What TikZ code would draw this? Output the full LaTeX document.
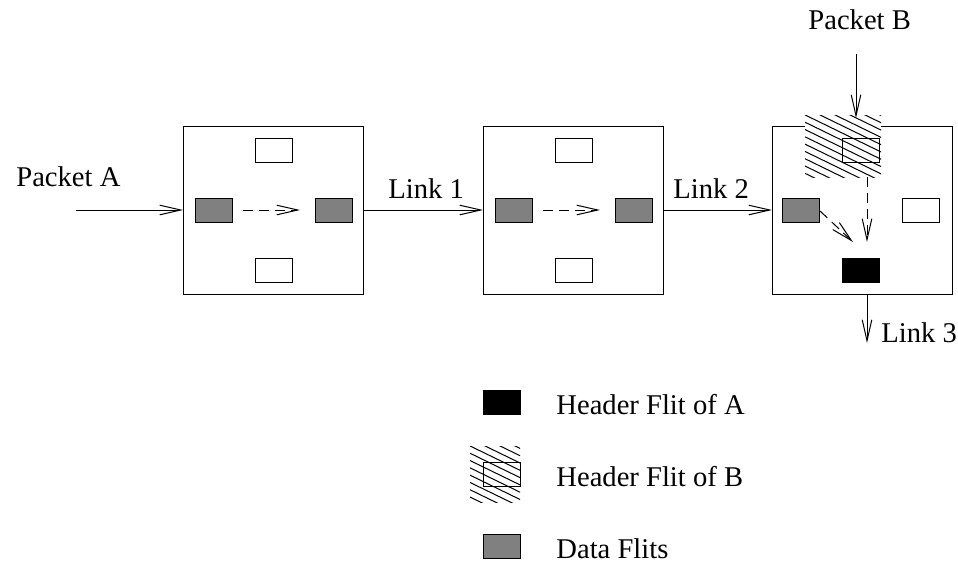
\documentclass[tikz,border=0pt]{standalone}
\usepackage{fontspec}
\setmainfont{Liberation Serif}
\usetikzlibrary{arrows.meta,calc}

\tikzset{
  lw/.style={line width=0.5pt},
  router/.style={draw,lw,minimum width=90pt,minimum height=84pt,inner sep=0pt,outer sep=0pt},
  flit/.style={draw,lw,minimum width=18.5pt,minimum height=12pt,inner sep=0pt,outer sep=0pt},
  dataflit/.style={flit,fill=black!50},
  freeflit/.style={flit,fill=white},
  headA/.style={flit,fill=black},
  headB/.style={flit},
  link/.style={lw,-{Straight Barb[length=10.5pt,width=4.8pt,line width=0.5pt]}},
  dasharrow/.style={link,dash pattern=on 5pt off 3pt},
  lbl/.style={font=\fontsize{14.3}{16}\selectfont,inner sep=0pt,anchor=base west},
  hatchline/.style={line width=0.5pt}
}

% hatched backdrop behind a header flit of packet B
\newcommand{\hatcharea}[4]{% x0,y0,x1,y1
  \fill[white] (#1,#2) rectangle (#3,#4);
  \begin{scope}
    \clip (#1,#2) rectangle (#3,#4);
    \foreach \k in {0,...,18}
      \draw[hatchline] ($(#1,#2)+(-90,-95+7.3*\k)$) -- ++(230,112);
  \end{scope}
}

\begin{document}
\begin{tikzpicture}[x=0.5pt,y=-0.5pt]
\useasboundingbox (0,0) rectangle (958,563);

% routers
\node[router] (r1) at (273,210) {};
\node[router] (r2) at (573,210) {};
\node[router] (r3) at (862,210) {};

% router 1
\node[freeflit] (r1n) at (273.5,150) {};
\node[freeflit] (r1s) at (273.5,270) {};
\node[dataflit] (r1w) at (213.5,210) {};
\node[dataflit] (r1e) at (333.5,210) {};
\draw[dasharrow] ([xshift=5.5pt]r1w.east) -- ([xshift=-7.5pt]r1e.west);

% router 2
\node[freeflit] (r2n) at (573.5,150) {};
\node[freeflit] (r2s) at (573.5,270) {};
\node[dataflit] (r2w) at (513.5,210) {};
\node[dataflit] (r2e) at (633.5,210) {};
\draw[dasharrow] ([xshift=5.5pt]r2w.east) -- ([xshift=-7.5pt]r2e.west);

% router 3
\hatcharea{805}{115}{881}{177}
\node[headB] (r3n) at (861,150) {};
\node[dataflit] (r3w) at (801,210) {};
\node[freeflit] (r3e) at (921,210) {};
\node[headA] (r3s) at (861,270) {};
\coordinate (hb) at (867,177);
\coordinate (hbend) at (867,242);
\coordinate (dwstart) at (820,211);
\coordinate (dwend) at (853,242);
\draw[dasharrow] (hb) -- (hbend);
\draw[dasharrow] (dwstart) -- (dwend);

% links
\coordinate (inA) at (76,210);
\draw[link] (inA) -- (r1.west);
\draw[link] (r1.east) -- (r2.west);
\draw[link] (r2.east) -- (r3.west);
\coordinate (inB) at (856,54);
\coordinate (inBend) at (856,118);
\draw[link] (inB) -- (inBend);
\coordinate (out3) at (867,294);
\coordinate (out3end) at (867,343);
\draw[link] (out3) -- (out3end);

% labels
\node[lbl] (pa) at (16,186) {Packet A};
\node[lbl] (l1) at (388,198) {Link 1};
\node[lbl] (l2) at (673,198) {Link 2};
\node[lbl] (pb) at (808,29) {Packet B};
\node[lbl] (l3) at (881,342) {Link 3};

% legend
\node[headA] (kA) at (501.5,402) {};
\node[lbl] (tA) at (556,414) {Header Flit of A};
\hatcharea{470}{446}{520}{502}
\node[headB] (kB) at (501.5,474.5) {};
\node[lbl] (tB) at (556,486) {Header Flit of B};
\node[dataflit] (kD) at (501.5,546) {};
\node[lbl] (tD) at (556,558) {Data Flits};
\end{tikzpicture}
\end{document}
